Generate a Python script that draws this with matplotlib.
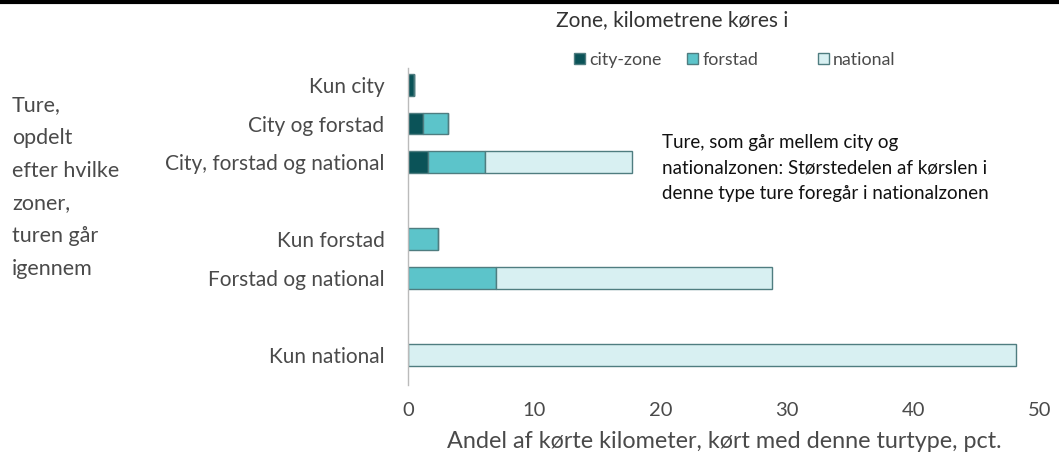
import numpy as np
import matplotlib as mpl
import matplotlib.pyplot as plt
from matplotlib.patches import Patch

mpl.rcParams['font.family'] = ['Lato', 'DejaVu Sans']

# Data (pct. of driven kilometres)
categories = ['Kun city', 'City og forstad', 'City, forstad og national',
              'Kun forstad', 'Forstad og national', 'Kun national']
slots = [0, 1, 2, 4, 5, 7]
city_zone = [0.5, 1.2, 1.6, 0.0, 0.0, 0.0]
forstad = [0.0, 2.0, 4.5, 2.4, 7.0, 0.0]
national = [0.0, 0.0, 11.6, 0.0, 21.8, 48.1]

series_names = ['city-zone', 'forstad', 'national']
colors = ['#0b5358', '#5cc4ca', '#d8f0f2']
edge = '#4f7d80'
txt = '#4a4a4a'

fig = plt.figure(figsize=(10.59, 4.55), dpi=100)
ax = fig.add_axes([408 / 1059, 1 - 385 / 455, (1040 - 408) / 1059, (385 - 68) / 455])

h = 0.56
left = np.zeros(len(categories))
for vals, col in zip([city_zone, forstad, national], colors):
    vals = np.array(vals)
    ax.barh(slots, vals, left=left, height=h, color=col,
            edgecolor=edge, linewidth=1.0)
    left = left + vals

ax.set_xlim(0, 50)
ax.set_ylim(7.78, -0.44)
ax.set_yticks(slots)
ax.set_yticklabels(categories, fontsize=15, color=txt)
ax.set_xticks([0, 10, 20, 30, 40, 50])
ax.tick_params(axis='x', labelsize=14.5, colors=txt, length=0, pad=12)
ax.tick_params(axis='y', length=0, pad=17)
for s in ['top', 'right', 'bottom']:
    ax.spines[s].set_visible(False)
ax.spines['left'].set_color('#bbbbbb')
ax.spines['left'].set_linewidth(1.0)

ax.set_xlabel('Andel af kørte kilometer, kørt med denne turtype, pct.',
              fontsize=16.8, color=txt, labelpad=9)

# Left side label
fig.text(12 / 1059, 1 - 95 / 455,
         'Ture,\nopdelt\nefter hvilke\nzoner,\nturen går\nigennem',
         fontsize=15.5, color=txt, ha='left', va='top', linespacing=1.8)

# Annotation
fig.text(662 / 1059, 1 - 134 / 455,
         'Ture, som går mellem city og\nnationalzonen: Størstedelen af kørslen i\n'
         'denne type ture foregår i nationalzonen',
         fontsize=13.5, color='#111111', ha='left', va='top', linespacing=1.62)

# Legend (equal-width columns as in the original)
fig.text(556 / 1059, 1 - 20 / 455, 'Zone, kilometrene køres i',
         fontsize=15, color='#333333', ha='left', va='center')
legend_x = [558, 671, 802]
for c, n, lx in zip(colors, series_names, legend_x):
    fig.legend(handles=[Patch(facecolor=c, edgecolor=edge, label=n)],
               loc='center left', bbox_to_anchor=(lx / 1059, 1 - 60 / 455),
               frameon=False, fontsize=12.8, handlelength=0.6, handleheight=0.6,
               handletextpad=0.25, labelcolor=txt)

# Top border line
fig.add_artist(plt.Line2D([0, 1], [1 - 2 / 455, 1 - 2 / 455],
                          transform=fig.transFigure, color='black', lw=3))

fig.savefig('out.png', dpi=100)
